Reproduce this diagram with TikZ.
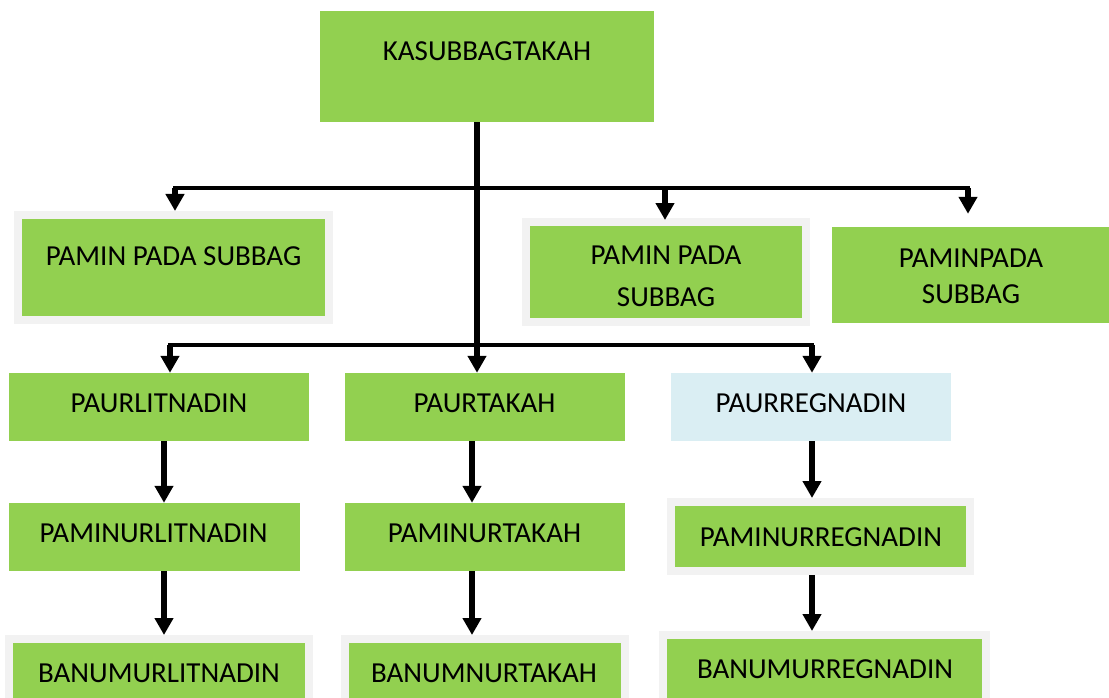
\documentclass[tikz,border=0pt]{standalone}
\usepackage{fontspec}
\setmainfont{Carlito}
\usetikzlibrary{arrows.meta}

\definecolor{boxgreen}{HTML}{92D050}
\definecolor{boxblue}{HTML}{DAEEF3}
\definecolor{framegrey}{HTML}{F2F2F2}

\tikzset{
  box/.style={rectangle, fill=boxgreen, inner sep=0pt},
  bluebox/.style={box, fill=boxblue},
  framedbox/.style={box, draw=framegrey, line width=8pt},
  lbl/.style={inner sep=0pt, align=center, font=\fontsize{29}{35}\selectfont},
  bar/.style={line width=4pt, line cap=rect},
  feed/.style={line width=5.5pt, -{Triangle[length=17pt,width=18pt]}},
}

\begin{document}
\begin{tikzpicture}[x=1pt,y=-1pt]
\useasboundingbox (0,0) rectangle (1109,698);
\clip (0,0) rectangle (1109,698);

% ---- head ----
\node[box, minimum width=334pt, minimum height=111pt] (kasub) at (487,66.5) {};
\node[lbl] (kasubT) at (487,51.5) {KASUBBAGTAKAH};

% ---- staff level ----
\node[framedbox, minimum width=311pt, minimum height=105pt] (p1) at (173.5,267.5) {};
\node[lbl] (p1T) at (173.5,256.5) {PAMIN PADA SUBBAG};

\node[framedbox, minimum width=280pt, minimum height=100pt] (p2) at (666,272) {};
\node[lbl, font=\fontsize{29}{42}\selectfont] (p2T) at (666,276) {PAMIN PADA\\SUBBAG};

\node[box, minimum width=280pt, minimum height=96pt] (p3) at (972,275) {};
\node[lbl, font=\fontsize{29}{35.5}\selectfont] (p3T) at (971,276.25) {PAMINPADA\\SUBBAG};

% ---- section heads ----
\node[box, minimum width=300pt, minimum height=68pt] (r2a) at (158.5,407) {};
\node[lbl] (r2aT) at (159,403) {PAURLITNADIN};
\node[box, minimum width=280pt, minimum height=68pt] (r2b) at (485,407) {};
\node[lbl] (r2bT) at (484.5,403) {PAURTAKAH};
\node[bluebox, minimum width=280pt, minimum height=68pt] (r2c) at (811,407) {};
\node[lbl] (r2cT) at (811,403) {PAURREGNADIN};

% ---- third level ----
\node[box, minimum width=291pt, minimum height=68pt] (r3a) at (154.5,537) {};
\node[lbl] (r3aT) at (153.5,533) {PAMINURLITNADIN};
\node[box, minimum width=280pt, minimum height=68pt] (r3b) at (485,537) {};
\node[lbl] (r3bT) at (484.5,533) {PAMINURTAKAH};
\node[framedbox, minimum width=299pt, minimum height=69pt] (r3c) at (820.5,536.5) {};
\node[lbl] (r3cT) at (821,537) {PAMINURREGNADIN};

% ---- fourth level ----
\node[framedbox, minimum width=300pt, minimum height=85pt] (r4a) at (159,681.5) {};
\node[lbl] (r4aT) at (159,673) {BANUMURLITNADIN};
\node[framedbox, minimum width=280pt, minimum height=85pt] (r4b) at (485,681.5) {};
\node[lbl] (r4bT) at (484,673) {BANUMNURTAKAH};
\node[framedbox, minimum width=323pt, minimum height=89pt] (r4c) at (824.5,679.5) {};
\node[lbl] (r4cT) at (825,669.5) {BANUMURREGNADIN};

% ---- connector guides ----
\coordinate (tx) at (477,0);
\coordinate (h1L) at (175,188);
\coordinate (h1M) at (665,188);
\coordinate (h1R) at (968,188);
\coordinate (h2L) at (170,345);
\coordinate (h2R) at (812,345);
\coordinate (c1) at (164,0);
\coordinate (c2) at (472,0);
\coordinate (c3) at (812,0);

% trunk from the head down to the middle section
\draw[feed] (kasub.south -| tx) -- (r2b.north -| tx);

% first distribution bar
\draw[bar] (h1L) -- (h1R);
\draw[feed] (h1L) -- (p1.north -| h1L);
\draw[feed] (h1M) -- ([yshift=-2pt]p2.north -| h1M);
\draw[feed] (h1R) -- ([yshift=13pt]p3.north -| h1R);

% second distribution bar
\draw[bar] (h2L) -- (h2R);
\draw[feed] (h2L) -- (r2a.north -| h2L);
\draw[feed] (h2R) -- (r2c.north -| h2R);

% column links
\draw[feed] (r2a.south -| c1) -- (r3a.north -| c1);
\draw[feed] (r2b.south -| c2) -- (r3b.north -| c2);
\draw[feed] (r2c.south -| c3) -- (r3c.north -| c3);
\draw[feed] (r3a.south -| c1) -- (r4a.north -| c1);
\draw[feed] (r3b.south -| c2) -- (r4b.north -| c2);
\draw[feed] (r3c.south -| c3) -- (r4c.north -| c3);
\end{tikzpicture}
\end{document}
